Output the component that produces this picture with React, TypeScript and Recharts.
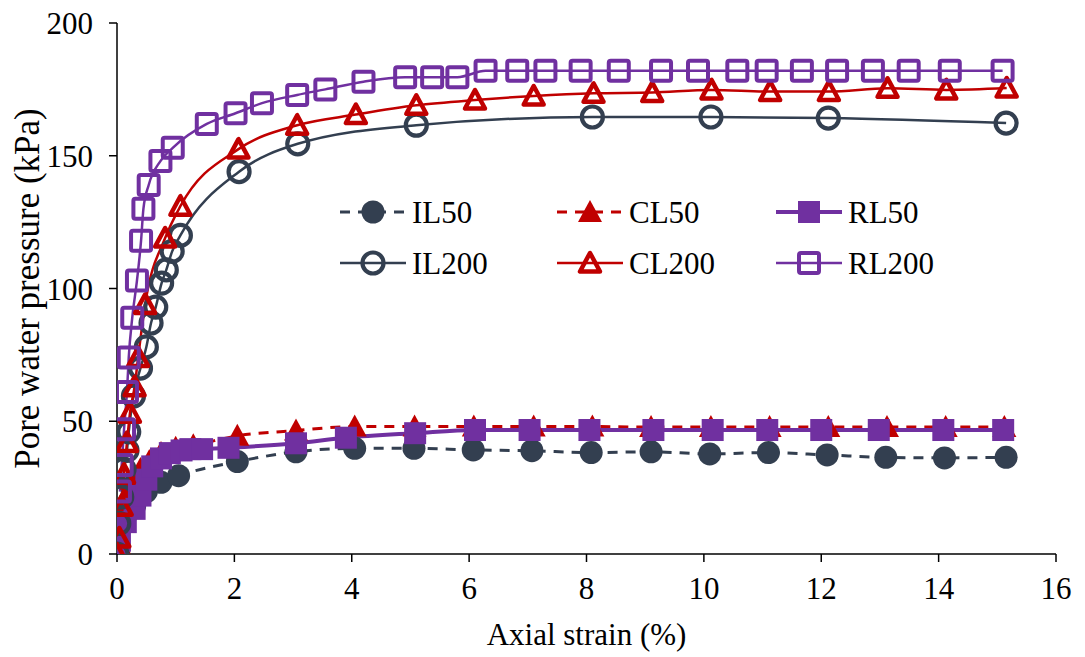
import { LineChart, Line, XAxis, YAxis, Legend } from 'recharts';

const IL_COLOR = '#333F50';
const CL_COLOR = '#C00000';
const RL_COLOR = '#7030A0';
const FONT = '"Liberation Serif", "Times New Roman", serif';

const X_TICKS = [0, 2, 4, 6, 8, 10, 12, 14, 16];
const Y_TICKS = [0, 50, 100, 150, 200];

// axial strain (%) / pore water pressure (kPa)
const IL50_STRAIN = [0, 0.05, 0.15, 0.3, 0.5, 0.75, 1.05, 2.05, 3.05, 4.05, 5.06, 6.07, 7.07, 8.08, 9.1, 10.1, 11.1, 12.1, 13.1, 14.1, 15.15];
const IL50_PWP = [0, 11, 14.5, 18, 23.5, 27, 29.5, 34.8, 38.5, 39.8, 39.8, 39.2, 38.9, 38.2, 38.5, 37.7, 38.2, 37.3, 36.4, 36.2, 36.4];

const CL50_STRAIN = [0, 0.03, 0.08, 0.15, 0.25, 0.4, 0.55, 0.75, 1.0, 1.3, 2.05, 3.05, 4.05, 5.07, 6.08, 7.1, 8.1, 9.1, 10.12, 11.12, 12.12, 13.12, 14.12, 15.12];
const CL50_PWP = [0, 4, 15, 22, 28, 32, 35, 38, 40, 41, 44.5, 46.5, 48, 48, 48, 48, 48, 47.8, 47.8, 47.8, 47.8, 47.8, 47.8, 47.8];

const RL50_STRAIN = [0, 0.05, 0.15, 0.3, 0.4, 0.5, 0.6, 0.75, 0.9, 1.1, 1.25, 1.45, 1.9, 3.05, 3.9, 5.08, 6.1, 7.03, 8.05, 9.14, 10.15, 11.08, 12.0, 12.98, 14.08, 15.1];
const RL50_PWP = [0, 5, 12, 17, 22, 28, 33, 36, 38, 39, 39.5, 39.5, 40, 41.7, 43.8, 45.5, 46.7, 46.7, 46.7, 46.7, 46.7, 46.7, 46.7, 46.7, 46.7, 46.7];

const IL200_STRAIN = [0, 0.03, 0.08, 0.12, 0.17, 0.2, 0.28, 0.4, 0.5, 0.58, 0.66, 0.76, 0.84, 0.94, 1.08, 2.08, 3.08, 5.1, 8.1, 10.12, 12.12, 15.15];
const IL200_PWP = [0, 11.5, 21.5, 32, 39, 46, 59.5, 70, 78, 87, 93, 102, 107, 114, 120, 144, 154.5, 161.5, 164.6, 164.6, 164.2, 162.3];

const CL200_STRAIN = [0, 0.04, 0.08, 0.12, 0.17, 0.22, 0.3, 0.36, 0.48, 0.82, 1.08, 2.07, 3.07, 4.07, 5.1, 6.1, 7.1, 8.12, 9.12, 10.13, 11.13, 12.13, 13.13, 14.13, 15.16];
const CL200_PWP = [0, 6, 18, 30, 42, 53, 63, 74, 94, 119, 131, 152.5, 161.5, 165.5, 169, 171, 172.5, 173.5, 173.8, 174.8, 174.2, 174.2, 175.4, 174.8, 175.5];

const RL200_STRAIN = [0.05, 0.08, 0.12, 0.17, 0.2, 0.26, 0.34, 0.41, 0.45, 0.54, 0.74, 0.95, 1.53, 2.02, 2.47, 3.07, 3.55, 4.2, 4.91, 5.37, 5.8, 6.28, 6.82, 7.3, 7.9, 8.55, 9.27, 9.9, 10.57, 11.07, 11.67, 12.27, 12.88, 13.49, 14.19, 15.09];
const RL200_PWP = [23.5, 33.5, 47, 61, 74, 89, 103, 118, 130, 139, 148, 153, 162, 166, 169.8, 172.9, 175, 177.9, 179.6, 179.6, 179.6, 182, 182, 182, 182, 182, 182, 182, 182, 182, 182, 182, 182, 182, 182, 182];

type Shape = 'circle' | 'triangle' | 'square';

interface SeriesDef {
    name: string;
    color: string;
    shape: Shape;
    filled: boolean;
    dashed: boolean;
    width: number;
    points: { x: number; y: number }[];
}

const toPoints = (xs: number[], ys: number[]) => xs.map((x, i) => ({ x, y: ys[i] }));

const SERIES: SeriesDef[] = [
    { name: 'IL50', color: IL_COLOR, shape: 'circle', filled: true, dashed: true, width: 3, points: toPoints(IL50_STRAIN, IL50_PWP) },
    { name: 'CL50', color: CL_COLOR, shape: 'triangle', filled: true, dashed: true, width: 3, points: toPoints(CL50_STRAIN, CL50_PWP) },
    { name: 'RL50', color: RL_COLOR, shape: 'square', filled: true, dashed: false, width: 4, points: toPoints(RL50_STRAIN, RL50_PWP) },
    { name: 'IL200', color: IL_COLOR, shape: 'circle', filled: false, dashed: false, width: 2.5, points: toPoints(IL200_STRAIN, IL200_PWP) },
    { name: 'CL200', color: CL_COLOR, shape: 'triangle', filled: false, dashed: false, width: 2.5, points: toPoints(CL200_STRAIN, CL200_PWP) },
    { name: 'RL200', color: RL_COLOR, shape: 'square', filled: false, dashed: false, width: 2.5, points: toPoints(RL200_STRAIN, RL200_PWP) },
];

interface MarkerProps {
    cx?: number;
    cy?: number;
    shape: Shape;
    color: string;
    filled: boolean;
}

function Marker({ cx, cy, shape, color, filled }: MarkerProps) {
    if (cx == null || cy == null || isNaN(cx) || isNaN(cy)) return null;
    if (shape === 'circle') {
        return filled
            ? <circle cx={cx} cy={cy} r={11.5} fill={color} />
            : <circle cx={cx} cy={cy} r={10.5} fill="none" stroke={color} strokeWidth={4.2} />;
    }
    if (shape === 'triangle') {
        if (filled) {
            const pts = `${cx},${cy - 12} ${cx - 12},${cy + 10} ${cx + 12},${cy + 10}`;
            return <polygon points={pts} fill={color} />;
        }
        const pts = `${cx},${cy - 10} ${cx - 10},${cy + 8.5} ${cx + 10},${cy + 8.5}`;
        return <polygon points={pts} fill="none" stroke={color} strokeWidth={4.5} strokeLinejoin="round" />;
    }
    return filled
        ? <rect x={cx - 11} y={cy - 11} width={22} height={22} fill={color} />
        : <rect x={cx - 10} y={cy - 10} width={20} height={20} rx={2} fill="none" stroke={color} strokeWidth={4} />;
}

// legend cells, relative to the legend box
const LEGEND_COLS = [10, 227, 446];
const LEGEND_ROWS = [27, 78];

function LegendBox() {
    return (
        <svg width={640} height={110} style={{ overflow: 'visible' }}>
            {SERIES.map((s, i) => {
                const x0 = LEGEND_COLS[i % 3];
                const y = LEGEND_ROWS[Math.floor(i / 3)];
                return (
                    <g key={s.name}>
                        <line
                            x1={x0}
                            x2={x0 + 66}
                            y1={y}
                            y2={y}
                            stroke={s.color}
                            strokeWidth={s.width}
                            strokeDasharray={s.dashed ? '10 8' : undefined}
                        />
                        <Marker cx={x0 + 33} cy={y} shape={s.shape} color={s.color} filled={s.filled} />
                        <text x={x0 + 72} y={y} dominantBaseline="central" fontFamily={FONT} fontSize={31} fill="#000">
                            {s.name}
                        </text>
                    </g>
                );
            })}
        </svg>
    );
}

export default function App() {
    return (
        <div style={{ position: 'absolute', left: 0, top: 0, width: 1085, height: 657, background: '#fff' }}>
            <LineChart width={1085} height={657} margin={{ top: 23, right: 29, left: 0, bottom: 0 }}>
                <XAxis
                    type="number"
                    dataKey="x"
                    domain={[0, 16]}
                    ticks={X_TICKS}
                    allowDataOverflow
                    height={103}
                    axisLine={{ stroke: '#000', strokeWidth: 1.5 }}
                    tickLine={{ stroke: '#000', strokeWidth: 1.5 }}
                    tickSize={8}
                    tickMargin={15}
                    tick={{ fill: '#000', fontSize: 31, fontFamily: FONT }}
                    label={{
                        content: ({ viewBox }: any) => (
                            <text
                                x={viewBox.x + viewBox.width / 2}
                                y={viewBox.y + 91}
                                textAnchor="middle"
                                fontFamily={FONT}
                                fontSize={31}
                                fill="#000"
                            >
                                Axial strain (%)
                            </text>
                        ),
                    }}
                />
                <YAxis
                    type="number"
                    dataKey="y"
                    domain={[0, 200]}
                    ticks={Y_TICKS}
                    allowDataOverflow
                    width={117}
                    axisLine={{ stroke: '#000', strokeWidth: 1.5 }}
                    tickLine={{ stroke: '#000', strokeWidth: 1.5 }}
                    tickSize={8}
                    tickMargin={16}
                    tick={{ fill: '#000', fontSize: 31, fontFamily: FONT }}
                    label={{
                        content: ({ viewBox }: any) => {
                            const cx = viewBox.x + 27;
                            const cy = viewBox.y + viewBox.height / 2;
                            return (
                                <text
                                    x={cx}
                                    y={cy}
                                    transform={`rotate(-90, ${cx}, ${cy})`}
                                    textAnchor="middle"
                                    dominantBaseline="central"
                                    fontFamily={FONT}
                                    fontSize={35}
                                    fill="#000"
                                >
                                    Pore water pressure (kPa)
                                </text>
                            );
                        },
                    }}
                />
                <Legend
                    layout="horizontal"
                    verticalAlign="middle"
                    align="center"
                    wrapperStyle={{ position: 'absolute', left: 330, top: 185, width: 640, height: 110 }}
                    content={() => <LegendBox />}
                />
                {SERIES.map((s) => (
                    <Line
                        key={s.name}
                        name={s.name}
                        data={s.points}
                        dataKey="y"
                        type="monotone"
                        stroke={s.color}
                        strokeWidth={s.width}
                        strokeDasharray={s.dashed ? '10 8' : undefined}
                        isAnimationActive={false}
                        activeDot={false}
                        dot={(p: any) => (
                            <Marker
                                key={`${s.name}-${p.index}`}
                                cx={p.cx}
                                cy={p.cy}
                                shape={s.shape}
                                color={s.color}
                                filled={s.filled}
                            />
                        )}
                    />
                ))}
            </LineChart>
        </div>
    );
}
